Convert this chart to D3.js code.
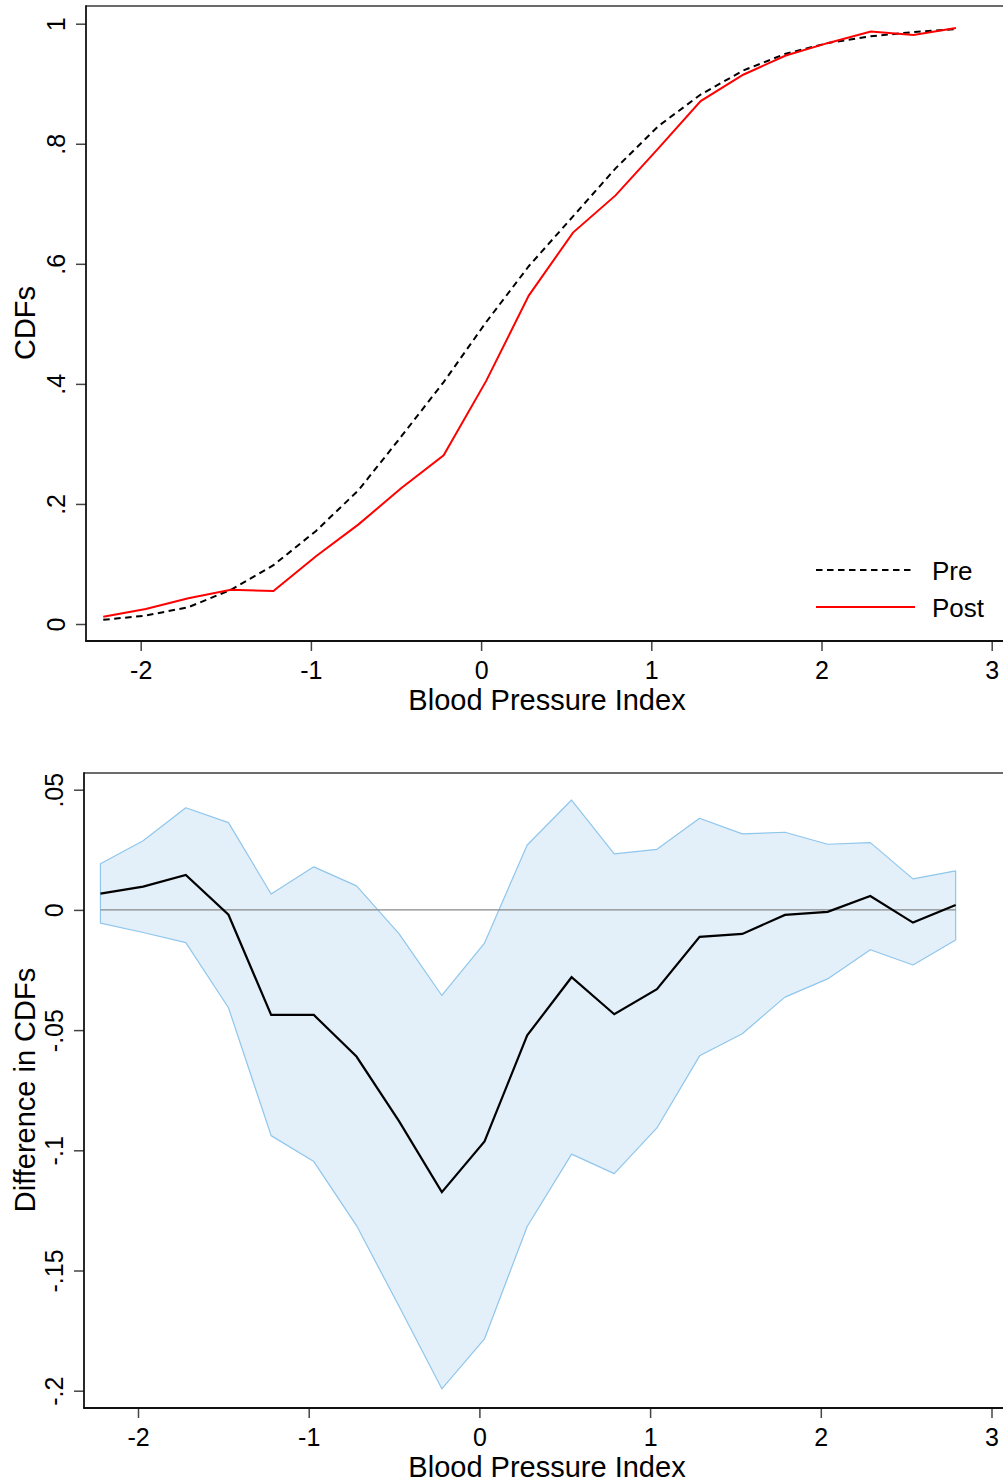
<!DOCTYPE html>
<html>
<head>
<meta charset="utf-8">
<script src="https://cdn.jsdelivr.net/npm/d3@7"></script>
<style>
  html, body { margin: 0; padding: 0; background: #fff; overflow: hidden; }
  svg { display: block; font-family: "Liberation Sans", Arial, Helvetica, sans-serif; }
</style>
</head>
<body>
<div id="chart"></div>
<script>
// grid of index values (shared by both panels)
var xVals = [-2.22, -1.97, -1.72, -1.47, -1.22, -0.97, -0.72, -0.47, -0.22, 0.03, 0.28,
             0.54, 0.79, 1.04, 1.29, 1.54, 1.79, 2.04, 2.29, 2.54, 2.79];

// top panel: CDFs
var preCdf  = [0.007, 0.014, 0.028, 0.057, 0.098, 0.155, 0.223, 0.312, 0.403, 0.503, 0.596,
               0.679, 0.759, 0.829, 0.882, 0.922, 0.950, 0.968, 0.979, 0.986, 0.991];
var postCdf = [0.012, 0.025, 0.043, 0.057, 0.055, 0.113, 0.166, 0.226, 0.281, 0.405, 0.547,
               0.652, 0.714, 0.792, 0.871, 0.915, 0.947, 0.968, 0.987, 0.981, 0.993];

// bottom panel: difference and its band
var diffCdf  = [0.0068, 0.0097, 0.0145, -0.002, -0.0437, -0.0437, -0.061, -0.088, -0.1174, -0.0963, -0.0522,
                -0.028, -0.0434, -0.033, -0.0112, -0.010, -0.0021, -0.0008, 0.0058, -0.0053, 0.002];
var diffHigh = [0.0192, 0.0288, 0.0425, 0.0363, 0.0066, 0.0179, 0.010, -0.010, -0.0356, -0.0138, 0.027,
                0.0457, 0.0233, 0.0252, 0.0381, 0.0316, 0.0323, 0.0273, 0.028, 0.0129, 0.0162];
var diffLow  = [-0.0055, -0.0094, -0.0136, -0.0407, -0.0939, -0.1047, -0.1313, -0.165, -0.1992, -0.1784, -0.1317,
                -0.1016, -0.1097, -0.0907, -0.0607, -0.0515, -0.0363, -0.0287, -0.0166, -0.0229, -0.0125];

var xTicks = [-2, -1, 0, 1, 2, 3];
var xTickLabels = ["-2", "-1", "0", "1", "2", "3"];
var yTicksTop = [0, 0.2, 0.4, 0.6, 0.8, 1];
var yTickLabelsTop = ["0", ".2", ".4", ".6", ".8", "1"];
var yTicksBot = [-0.2, -0.15, -0.1, -0.05, 0, 0.05];
var yTickLabelsBot = ["-.2", "-.15", "-.1", "-.05", "0", ".05"];

var seriesNames = ["Pre", "Post"];
var xTitle = "Blood Pressure Index";

var W = 1003, H = 1482;
var svg = d3.select("#chart").append("svg")
    .attr("width", W)
    .attr("height", H);

function panel(opt) {
    var g = svg.append("g");

    var x = d3.scaleLinear().domain([-2, 3]).range(opt.xRange);
    var y = d3.scaleLinear().domain(opt.yDom).range(opt.yRange);

    // frame: top border, left and bottom axis lines
    g.append("line")
        .attr("x1", opt.left).attr("x2", W + 10)
        .attr("y1", opt.top).attr("y2", opt.top)
        .attr("stroke", "#3a3a3a").attr("stroke-width", 1.6);

    var body = g.append("g");
    opt.draw(body, x, y);

    // y axis
    var yAxis = d3.axisLeft(y)
        .tickValues(opt.yTicks)
        .tickFormat(function(d, i) { return opt.yLabels[i]; })
        .tickSize(10)
        .tickSizeOuter(0);
    var ya = g.append("g")
        .attr("transform", "translate(" + opt.left + ",0)")
        .call(yAxis);
    ya.select(".domain").remove();
    ya.selectAll(".tick line").attr("stroke", "#444").attr("stroke-width", 1.5);
    ya.selectAll(".tick text")
        .attr("transform", "rotate(-90)")
        .attr("x", 0)
        .attr("y", -21)
        .attr("dy", 0)
        .attr("text-anchor", "middle")
        .attr("font-size", 25)
        .attr("font-family", "'Liberation Sans', Arial, sans-serif")
        .attr("fill", "#000");

    // x axis
    var xAxis = d3.axisBottom(x)
        .tickValues(xTicks)
        .tickFormat(function(d, i) { return xTickLabels[i]; })
        .tickSize(10)
        .tickSizeOuter(0);
    var xa = g.append("g")
        .attr("transform", "translate(0," + opt.bottom + ")")
        .call(xAxis);
    xa.select(".domain").remove();
    xa.selectAll(".tick line").attr("stroke", "#444").attr("stroke-width", 1.5);
    xa.selectAll(".tick text")
        .attr("y", 38)
        .attr("dy", 0)
        .attr("font-size", 25)
        .attr("font-family", "'Liberation Sans', Arial, sans-serif")
        .attr("fill", "#000");

    g.append("line")
        .attr("x1", opt.left).attr("x2", opt.left)
        .attr("y1", opt.top - 0.8).attr("y2", opt.bottom)
        .attr("stroke", "#111").attr("stroke-width", 1.8);
    g.append("line")
        .attr("x1", opt.left - 0.9).attr("x2", W + 10)
        .attr("y1", opt.bottom).attr("y2", opt.bottom)
        .attr("stroke", "#111").attr("stroke-width", 1.8);

    // titles
    g.append("text")
        .attr("x", 547)
        .attr("y", opt.bottom + 69)
        .attr("text-anchor", "middle")
        .attr("font-size", 29)
        .text(xTitle);
    g.append("text")
        .attr("transform", "translate(35," + opt.yTitleMid + ") rotate(-90)")
        .attr("text-anchor", "middle")
        .attr("font-size", 29)
        .text(opt.yTitle);
}

// top panel
panel({
    left: 86, top: 6, bottom: 641,
    xRange: [140.7, 991.7],
    yDom: [0, 1], yRange: [624, 23.7],
    yTicks: yTicksTop, yLabels: yTickLabelsTop,
    yTitle: "CDFs", yTitleMid: 323,
    draw: function(g, x, y) {
        var line = d3.line()
            .x(function(d) { return x(d[0]); })
            .y(function(d) { return y(d[1]); });

        g.append("path")
            .datum(d3.zip(xVals, preCdf))
            .attr("d", line)
            .attr("fill", "none")
            .attr("stroke", "#000")
            .attr("stroke-width", 2)
            .attr("stroke-dasharray", "6.5,4.5");

        g.append("path")
            .datum(d3.zip(xVals, postCdf))
            .attr("d", line)
            .attr("fill", "none")
            .attr("stroke", "#ff0000")
            .attr("stroke-width", 2);

        // legend
        var leg = g.append("g");
        var styles = [{ c: "#000", dash: "6.5,4.5" }, { c: "#ff0000", dash: null }];
        seriesNames.forEach(function(name, i) {
            var ly = 570 + i * 37;
            leg.append("line")
                .attr("x1", 816).attr("x2", 915)
                .attr("y1", ly).attr("y2", ly)
                .attr("stroke", styles[i].c)
                .attr("stroke-width", 2)
                .attr("stroke-dasharray", styles[i].dash);
            leg.append("text")
                .attr("x", 932)
                .attr("y", ly + 10)
                .attr("font-size", 26)
                .text(name);
        });
    }
});

// bottom panel
panel({
    left: 84, top: 773, bottom: 1408,
    xRange: [138, 991.5],
    yDom: [-0.2, 0.05], yRange: [1390.7, 789.7],
    yTicks: yTicksBot, yLabels: yTickLabelsBot,
    yTitle: "Difference in CDFs", yTitleMid: 1090,
    draw: function(g, x, y) {
        var rows = xVals.map(function(v, i) {
            return { x: v, d: diffCdf[i], lo: diffLow[i], hi: diffHigh[i] };
        });

        var band = d3.area()
            .x(function(d) { return x(d.x); })
            .y0(function(d) { return y(d.lo); })
            .y1(function(d) { return y(d.hi); });

        g.append("path")
            .datum(rows)
            .attr("d", band)
            .attr("fill", "#e3f0fa")
            .attr("stroke", "#8fc6ec")
            .attr("stroke-width", 1.2)
            .attr("stroke-linejoin", "round");

        g.append("line")
            .attr("x1", x(xVals[0])).attr("x2", x(xVals[xVals.length - 1]))
            .attr("y1", y(0)).attr("y2", y(0))
            .attr("stroke", "#888")
            .attr("stroke-width", 1.3);

        g.append("path")
            .datum(rows)
            .attr("d", d3.line()
                .x(function(d) { return x(d.x); })
                .y(function(d) { return y(d.d); }))
            .attr("fill", "none")
            .attr("stroke", "#000")
            .attr("stroke-width", 2.2);
    }
});
</script>
</body>
</html>
